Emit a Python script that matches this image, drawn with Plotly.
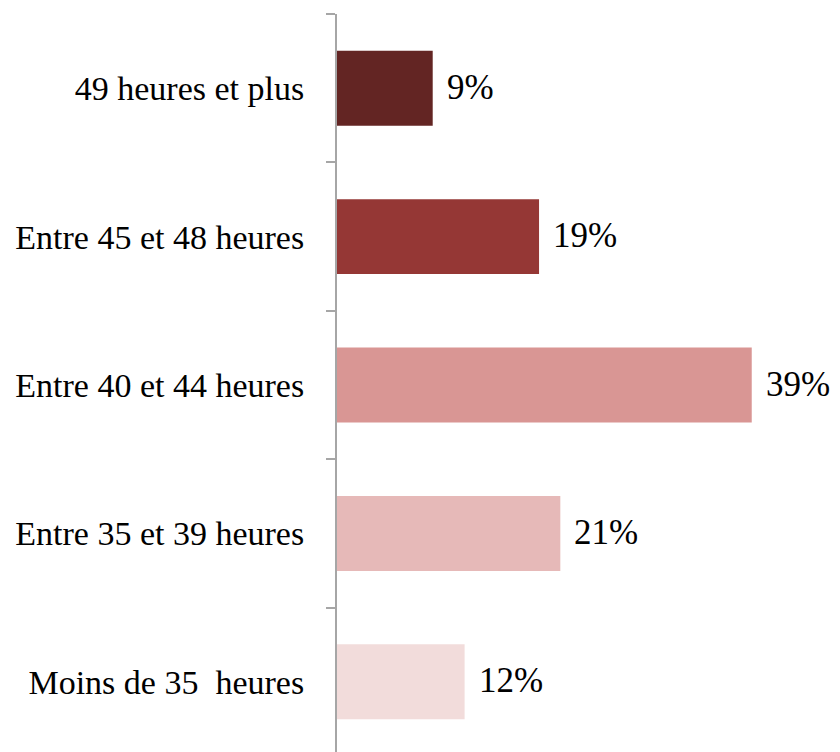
import plotly.graph_objects as go

categories = ["Moins de 35  heures", "Entre 35 et 39 heures", "Entre 40 et 44 heures",
              "Entre 45 et 48 heures", "49 heures et plus"]
values = [12, 21, 39, 19, 9]
labels = ["12%", "21%", "39%", "19%", "9%"]
colors = ["#f2dcdb", "#e6b9b8", "#d99694", "#953735", "#632523"]

FONT = "Liberation Serif, Times New Roman, serif"

fig = go.Figure()
fig.add_trace(go.Bar(
    y=categories, x=values, orientation="h",
    marker=dict(color=colors, line=dict(width=0)),
    hoverinfo="skip",
))
for c, v, t in zip(categories, values, labels):
    fig.add_annotation(x=v, y=c, text=t, showarrow=False, xanchor="left",
                       xshift=12, yshift=1, font=dict(family=FONT, size=35, color="#000000"))

fig.update_layout(
    width=832, height=744,
    margin=dict(l=329, r=0, t=6, b=0),
    paper_bgcolor="white", plot_bgcolor="white",
    bargap=0.495, showlegend=False,
    xaxis=dict(range=[0, 47.3], visible=False, fixedrange=True),
    yaxis=dict(
        type="category", categoryorder="array", categoryarray=categories,
        range=[-0.473, 4.5],
        showline=True, linecolor="#a6a6a6", linewidth=2,
        ticks="outside", tickson="boundaries", ticklen=9, tickcolor="#a6a6a6", tickwidth=2,
        ticklabelstandoff=24,
        tickfont=dict(family=FONT, size=34, color="#000000"),
        showgrid=False, zeroline=False,
    ),
)
fig.write_html("out.html")
